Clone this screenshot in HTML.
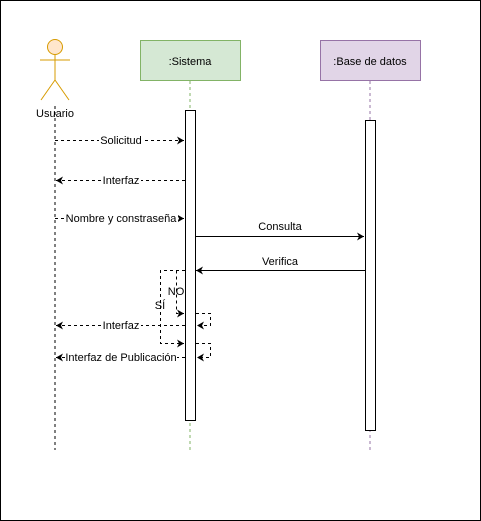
<!DOCTYPE html>
<html><head><meta charset="utf-8"><style>
html,body{margin:0;padding:0;background:#fff}
svg{display:block}
text{font-family:"Liberation Sans",sans-serif;font-size:11px;fill:#000}
</style></head><body>
<svg width="481" height="521" viewBox="0 0 481 521" xmlns="http://www.w3.org/2000/svg">
<defs>
<marker id="a" markerWidth="8" markerHeight="8" refX="7" refY="4" orient="auto" markerUnits="userSpaceOnUse">
<path d="M0,0 L7,4 L0,8 L2,4 Z" fill="#000"/></marker>
</defs>
<rect x="0.5" y="0.5" width="480" height="520" fill="#fff" stroke="#000"/>
<!-- actor -->
<circle cx="55" cy="47" r="7.5" fill="#ffe6cc" stroke="#d79b00"/>
<line x1="55" y1="55" x2="55" y2="80" stroke="#d79b00"/>
<line x1="40" y1="60" x2="70" y2="60" stroke="#d79b00"/>
<line x1="55" y1="80" x2="41" y2="100" stroke="#d79b00"/>
<line x1="55" y1="80" x2="69" y2="100" stroke="#d79b00"/>
<text x="55" y="117" text-anchor="middle" font-size="12">Usuario</text>
<line x1="55" y1="106" x2="55" y2="450" stroke="#000" stroke-dasharray="3,3"/>
<!-- sistema -->
<rect x="140.5" y="40.5" width="100" height="40" fill="#d5e8d4" stroke="#82b366"/>
<text x="190" y="65" text-anchor="middle" font-size="12">:Sistema</text>
<line x1="190" y1="81" x2="190" y2="450" stroke="#82b366" stroke-dasharray="3,3"/>
<rect x="185.5" y="110.5" width="10" height="310" fill="#fff" stroke="#000"/>
<!-- base -->
<rect x="320.5" y="40.5" width="100" height="40" fill="#e1d5e7" stroke="#9673a6"/>
<text x="370" y="65" text-anchor="middle" font-size="12">:Base de datos</text>
<line x1="370" y1="81" x2="370" y2="450" stroke="#9673a6" stroke-dasharray="3,3"/>
<rect x="365.5" y="120.5" width="10" height="310" fill="#fff" stroke="#000"/>
<g stroke="#000" fill="none" stroke-dasharray="3,3">
<line x1="55" y1="140.5" x2="184" y2="140.5" marker-end="url(#a)"/>
<line x1="185" y1="180.5" x2="56" y2="180.5" marker-end="url(#a)"/>
<line x1="55" y1="218.5" x2="184" y2="218.5" marker-end="url(#a)"/>
<polyline points="185,270.5 160.5,270.5 160.5,343.5 184,343.5" marker-end="url(#a)"/>
<polyline points="176.5,270.5 176.5,313.5 184,313.5" marker-end="url(#a)"/>
<polyline points="196,313.5 210.5,313.5 210.5,325.5 197,325.5" marker-end="url(#a)"/>
<polyline points="196,343.5 210.5,343.5 210.5,357.5 197,357.5" marker-end="url(#a)"/>
<line x1="185" y1="325.5" x2="56" y2="325.5" marker-end="url(#a)"/>
<line x1="185" y1="357.5" x2="56" y2="357.5" marker-end="url(#a)"/>
</g>
<g stroke="#000">
<line x1="196" y1="236.5" x2="364" y2="236.5" marker-end="url(#a)"/>
<line x1="365" y1="270.5" x2="196" y2="270.5" marker-end="url(#a)"/>
</g>
<g font-size="10.5">
<rect x="99" y="134" width="44" height="12" fill="#fff"/><text x="121" y="144" text-anchor="middle">Solicitud</text>
<rect x="101" y="174" width="40" height="12" fill="#fff"/><text x="121" y="184" text-anchor="middle">Interfaz</text>
<rect x="64" y="212" width="114" height="12" fill="#fff"/><text x="121" y="222" text-anchor="middle">Nombre y constraseña</text>
<text x="280" y="230" text-anchor="middle">Consulta</text>
<text x="280" y="265" text-anchor="middle">Verifica</text>
<text x="176" y="295" text-anchor="middle">NO</text>
<text x="160" y="309" text-anchor="middle">SÍ</text>
<rect x="101" y="319" width="40" height="12" fill="#fff"/><text x="121" y="329" text-anchor="middle">Interfaz</text>
<rect x="65" y="351" width="112" height="12" fill="#fff"/><text x="121" y="361" text-anchor="middle">Interfaz de Publicación</text>
</g>
</svg>
</body></html>
